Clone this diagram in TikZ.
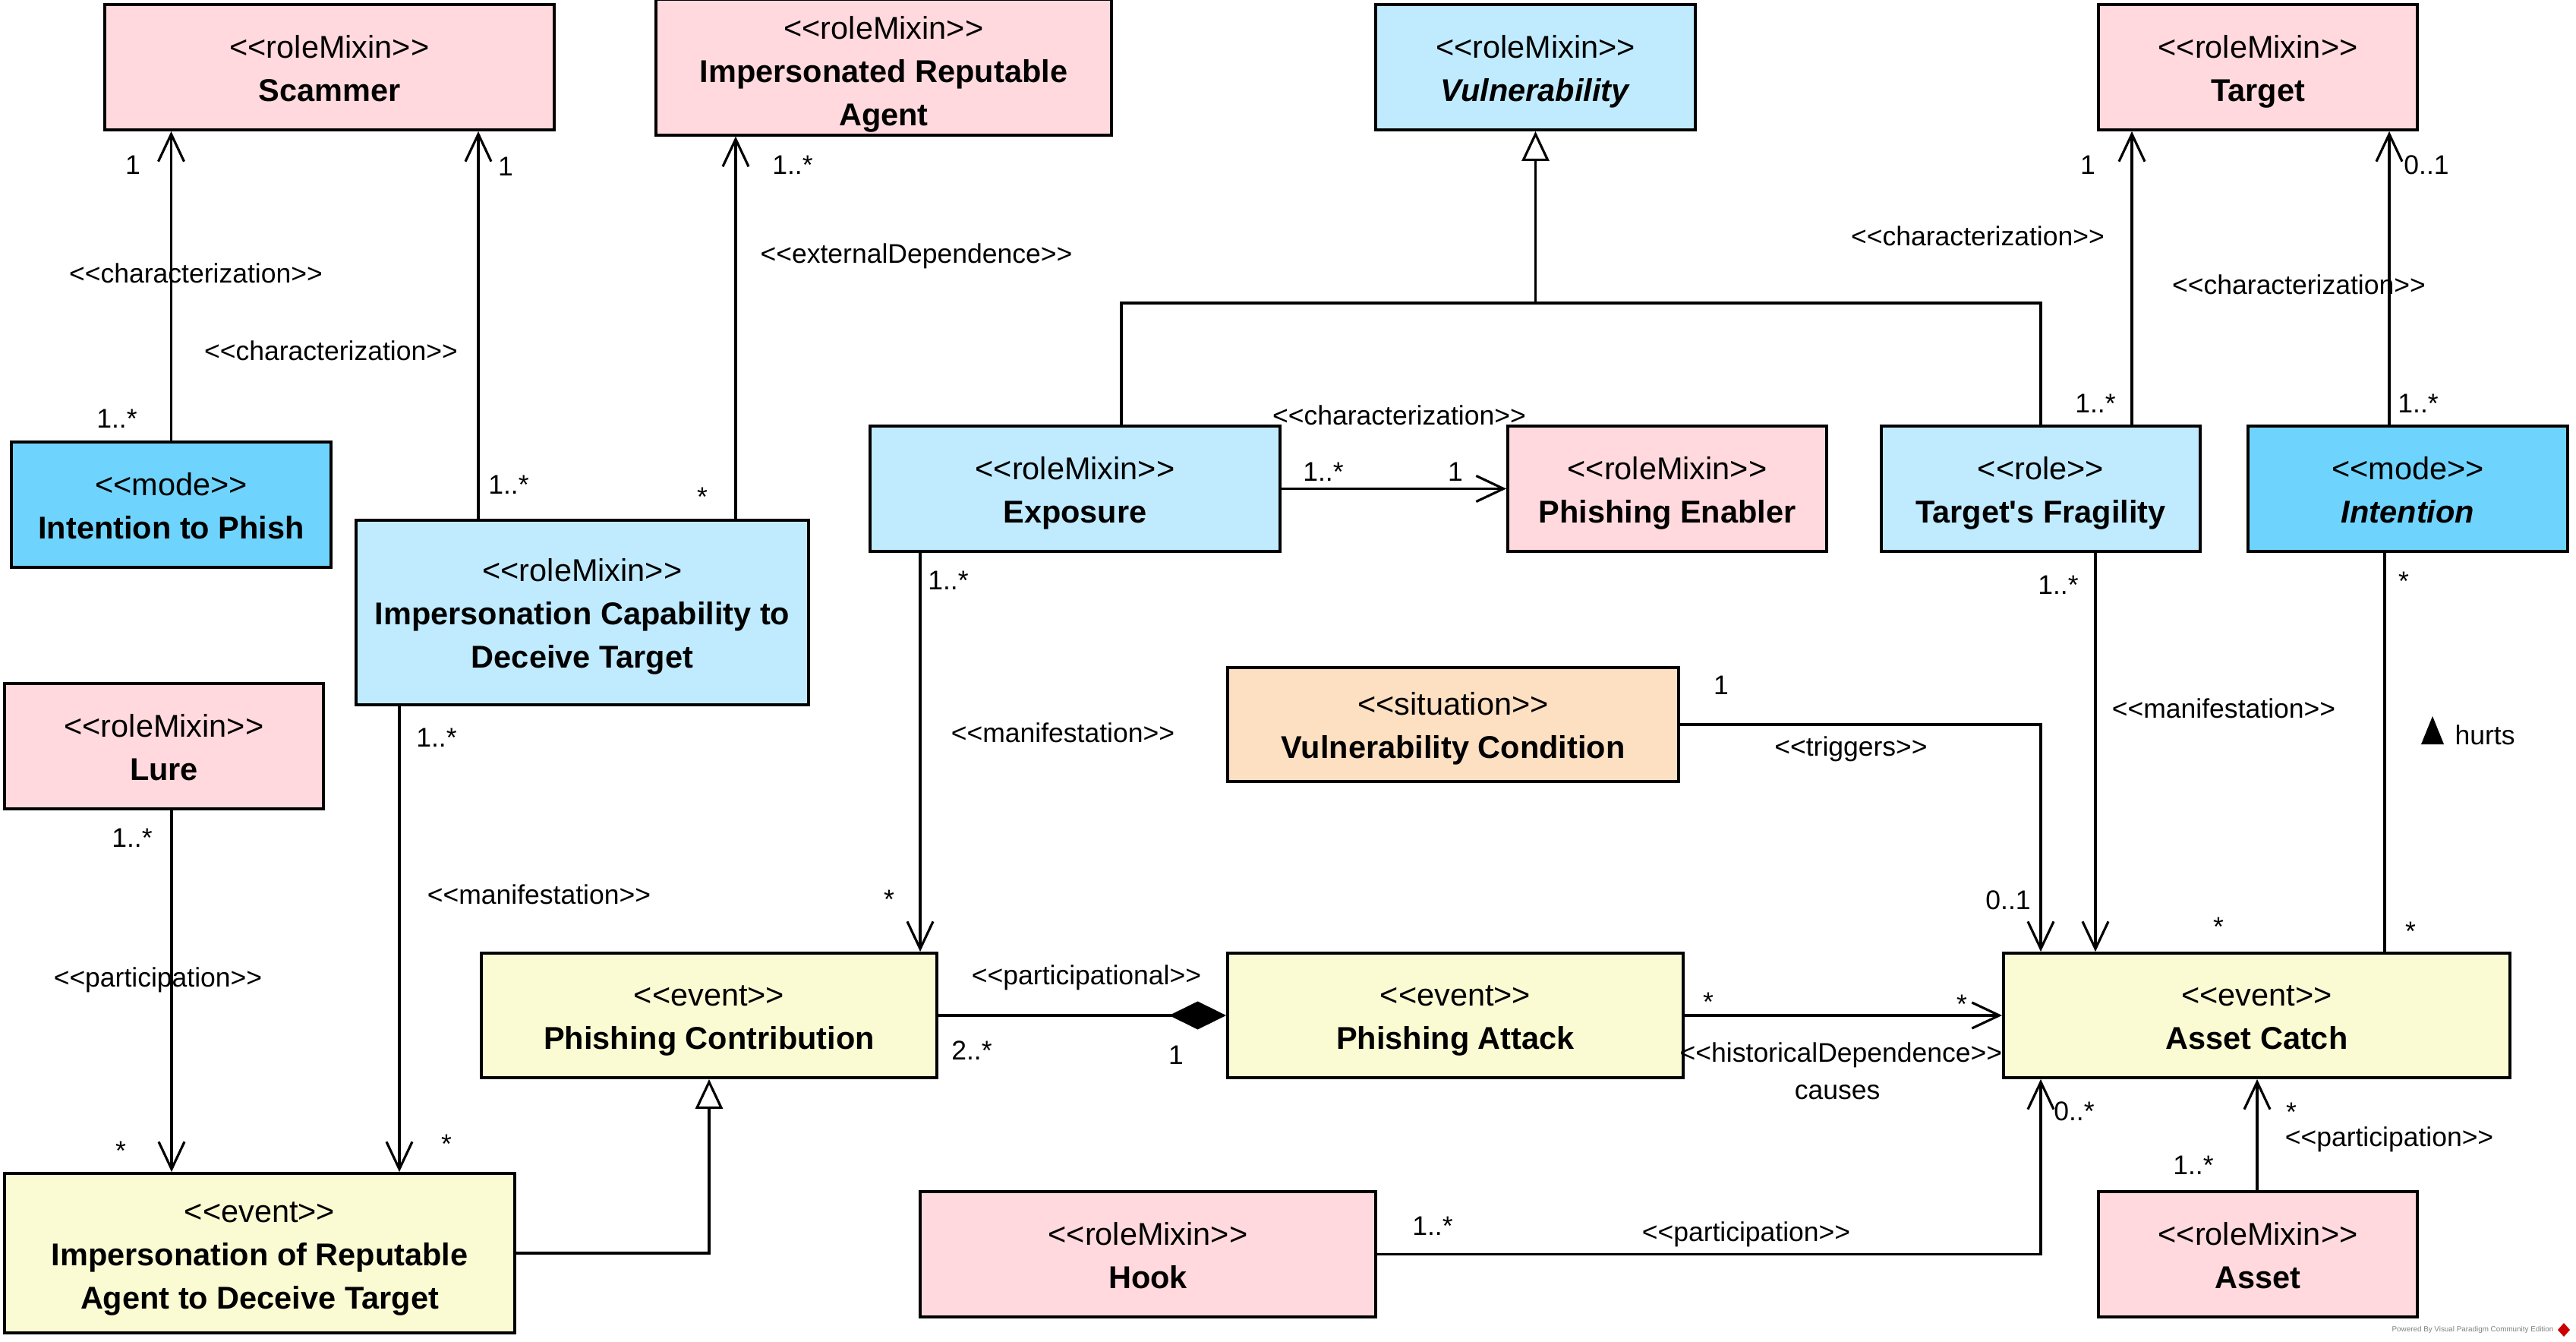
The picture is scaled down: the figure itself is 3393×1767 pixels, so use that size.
\documentclass[tikz,border=0pt]{standalone}
\usepackage{fontspec}
\setmainfont{Liberation Sans}
\usetikzlibrary{arrows.meta}
\definecolor{cpink}{HTML}{FFD9DD}
\definecolor{cblue}{HTML}{C0EBFE}
\definecolor{cmode}{HTML}{6FD4FD}
\definecolor{cyel}{HTML}{FBFBD3}
\definecolor{corg}{HTML}{FDDFC1}
\newcommand\ls{\rule[-3.45pt]{0pt}{16.2pt}}
\newcommand\st[1]{<{}<#1>{}>}
\newcommand\bst[1]{\ls<{}<#1>{}>}
\newcommand\nm[1]{\ls\textbf{#1}}
\newcommand\umlbox[7]{%
  \pgfmathsetmacro\bxcx{(#2+#4)/2}%
  \pgfmathsetmacro\bxcy{(#3+#5)/2}%
  \pgfmathsetmacro\bxw{(#4-#2)*0.01}%
  \pgfmathsetmacro\bxh{(#5-#3)*0.01}%
  \node[box,fill=#6,minimum width=\bxw cm,minimum height=\bxh cm] (#1) at (\bxcx,\bxcy) {#7};}
\tikzset{
  box/.style={draw, line width=1.1pt, inner sep=0pt, align=center, font=\fontsize{11.8}{16.2}\selectfont},
  lbl/.style={inner sep=0pt, font=\fontsize{10.1}{12}\selectfont},
  conn/.style={line width=0.9pt},
  assoc/.style={conn, -{Straight Barb[length=0.36cm,width=0.34cm,line width=0.9pt]}},
  gen/.style={conn, -{Triangle[open,length=0.39cm,width=0.36cm,line width=0.9pt]}},
  comp/.style={conn, -{Diamond[length=0.75cm,width=0.37cm]}},
}
\begin{document}
\begin{tikzpicture}[x=0.01cm,y=-0.01cm]
\useasboundingbox (0,0) rectangle (3393,1767);
% boxes
\umlbox{scam}{138}{6}{730}{171}{cpink}{\bst{roleMixin}\\\nm{Scammer}}
\umlbox{ira}{864}{6}{1464}{171}{cpink}{\rule[-3.45pt]{0pt}{18.3pt}\st{roleMixin}\\\nm{Impersonated Reputable}\\\nm{Agent}}
\umlbox{vul}{1812}{6}{2233}{171}{cblue}{\bst{roleMixin}\\\nm{\textit{Vulnerability}}}
\umlbox{tgt}{2764}{6}{3184}{171}{cpink}{\bst{roleMixin}\\\nm{Target}}
\umlbox{itp}{15}{582}{436}{747}{cmode}{\bst{mode}\\\nm{Intention to Phish}}
\umlbox{icap}{469}{685}{1065}{928}{cblue}{\bst{roleMixin}\\\nm{Impersonation Capability to}\\\nm{Deceive Target}}
\umlbox{exp}{1146}{561}{1686}{726}{cblue}{\bst{roleMixin}\\\nm{Exposure}}
\umlbox{pen}{1986}{561}{2406}{726}{cpink}{\bst{roleMixin}\\\nm{Phishing Enabler}}
\umlbox{tf}{2478}{561}{2898}{726}{cblue}{\bst{role}\\\nm{Target\textquotesingle s Fragility}}
\umlbox{int}{2961}{561}{3382}{726}{cmode}{\bst{mode}\\\nm{\textit{Intention}}}
\umlbox{lure}{6}{900}{426}{1065}{cpink}{\bst{roleMixin}\\\nm{Lure}}
\umlbox{vc}{1617}{879}{2211}{1029}{corg}{\bst{situation}\\\nm{Vulnerability Condition}}
\umlbox{pc}{634}{1255}{1234}{1419}{cyel}{\bst{event}\\\nm{Phishing Contribution}}
\umlbox{pa}{1617}{1255}{2217}{1419}{cyel}{\bst{event}\\\nm{Phishing Attack}}
\umlbox{ac}{2639}{1255}{3306}{1419}{cyel}{\bst{event}\\\nm{Asset Catch}}
\umlbox{irad}{6}{1545}{678}{1755}{cyel}{\bst{event}\\\nm{Impersonation of Reputable}\\\nm{Agent to Deceive Target}}
\umlbox{hook}{1212}{1569}{1812}{1734}{cpink}{\bst{roleMixin}\\\nm{Hook}}
\umlbox{asset}{2764}{1569}{3184}{1734}{cpink}{\bst{roleMixin}\\\nm{Asset}}
% connectors
\draw[assoc] (itp.north) -- (itp.north |- scam.south);
\draw[assoc] (630,0 |- icap.north) -- (630,0 |- scam.south);
\draw[assoc] (969,0 |- icap.north) -- (969,0 |- ira.south);
\draw[conn] (1477,0 |- exp.north) |- (2688,399) -- (2688,0 |- tf.north);
\draw[gen] (vul.south |- 0,399) -- (vul.south);
\draw[assoc] (exp.east) -- (pen.west);
\draw[assoc] (2808,0 |- tf.north) -- (2808,0 |- tgt.south);
\draw[assoc] (3147,0 |- int.north) -- (3147,0 |- tgt.south);
\draw[assoc] (226,0 |- lure.south) -- (226,0 |- irad.north);
\draw[assoc] (526,0 |- icap.south) -- (526,0 |- irad.north);
\draw[assoc] (1212,0 |- exp.south) -- (1212,0 |- pc.north);
\draw[gen] (irad.east) -| (pc.south);
\draw[comp] (pc.east) -- (pa.west);
\draw[assoc] (pa.east) -- (ac.west);
\draw[assoc] (vc.east) -| (2688,0 |- ac.north);
\draw[assoc] (2760,0 |- tf.south) -- (2760,0 |- ac.north);
\draw[conn] (3141,0 |- int.south) -- (3141,0 |- ac.north);
\draw[assoc] (hook.east) -| (2688,0 |- ac.south);
\draw[assoc] (2973,0 |- asset.north) -- (2973,0 |- ac.south);
% labels
\node[lbl] (l1) at (175,217) {1};
\node[lbl] (l2) at (154,551) {1..*};
\node[lbl] (l3) at (258,360) {\st{characterization}};
\node[lbl] (l4) at (666,219) {1};
\node[lbl] (l5) at (670,638) {1..*};
\node[lbl] (l6) at (436,462) {\st{characterization}};
\node[lbl] (l7) at (1044,217) {1..*};
\node[lbl] (l8) at (925,654) {*};
\node[lbl] (l9) at (1207,337) {\st{externalDependence}};
\node[lbl] (l10) at (1743,621) {1..*};
\node[lbl] (l11) at (1917,621) {1};
\node[lbl] (l12) at (1843,547) {\st{characterization}};
\node[lbl] (l13) at (2750,217) {1};
\node[lbl] (l14) at (2760,531) {1..*};
\node[lbl] (l15) at (2605,311) {\st{characterization}};
\node[lbl] (l16) at (3196,217) {0..1};
\node[lbl] (l17) at (3185,531) {1..*};
\node[lbl] (l18) at (3028,375) {\st{characterization}};
\node[lbl] (l19) at (174,1103) {1..*};
\node[lbl] (l20) at (208,1290) {\st{participation}};
\node[lbl] (l21) at (159,1515) {*};
\node[lbl] (l22) at (575,971) {1..*};
\node[lbl] (l23) at (710,1178) {\st{manifestation}};
\node[lbl] (l24) at (588,1506) {*};
\node[lbl] (l25) at (1249,764) {1..*};
\node[lbl] (l26) at (1400,965) {\st{manifestation}};
\node[lbl] (l27) at (1171,1184) {*};
\node[lbl] (l28) at (1431,1287) {\st{participational}};
\node[lbl] (l29) at (1280,1383) {2..*};
\node[lbl] (l30) at (1549,1389) {1};
\node[lbl] (l31) at (2250,1319) {*};
\node[lbl] (l32) at (2584,1322) {*};
\node[lbl] (l33) at (2425,1389) {\st{historicalDependence}};
\node[lbl] (l34) at (2420,1438) {causes};
\node[lbl] (l35) at (2267,902) {1};
\node[lbl] (l36) at (2438,986) {\st{triggers}};
\node[lbl] (l37) at (2645,1185) {0..1};
\node[lbl] (l38) at (2711,770) {1..*};
\node[lbl] (l39) at (2929,933) {\st{manifestation}};
\node[lbl] (l40) at (2922,1220) {*};
\node[lbl] (l41) at (3166,765) {*};
\node[lbl] (l42) at (3175,1226) {*};
\fill (3189,980) -- (3219,980) -- (3204,943) -- cycle;
\node[lbl] (l43) at (3273,968) {hurts};
\node[lbl] (l44) at (1887,1614) {1..*};
\node[lbl] (l45) at (2300,1625) {\st{participation}};
\node[lbl] (l46) at (2732,1463) {0..*};
\node[lbl] (l47) at (3018,1464) {*};
\node[lbl] (l48) at (3147,1500) {\st{participation}};
\node[lbl] (l49) at (2889,1534) {1..*};
% watermark
\node[inner sep=0pt, font=\fontsize{2.8}{3}\selectfont, text=gray] (wm) at (3257,1751) {Powered By Visual Paradigm Community Edition};
\fill[red!80!black] (3377,1742) -- (3385,1751) -- (3377,1760) -- (3369,1751) -- cycle;
\end{tikzpicture}
\end{document}
